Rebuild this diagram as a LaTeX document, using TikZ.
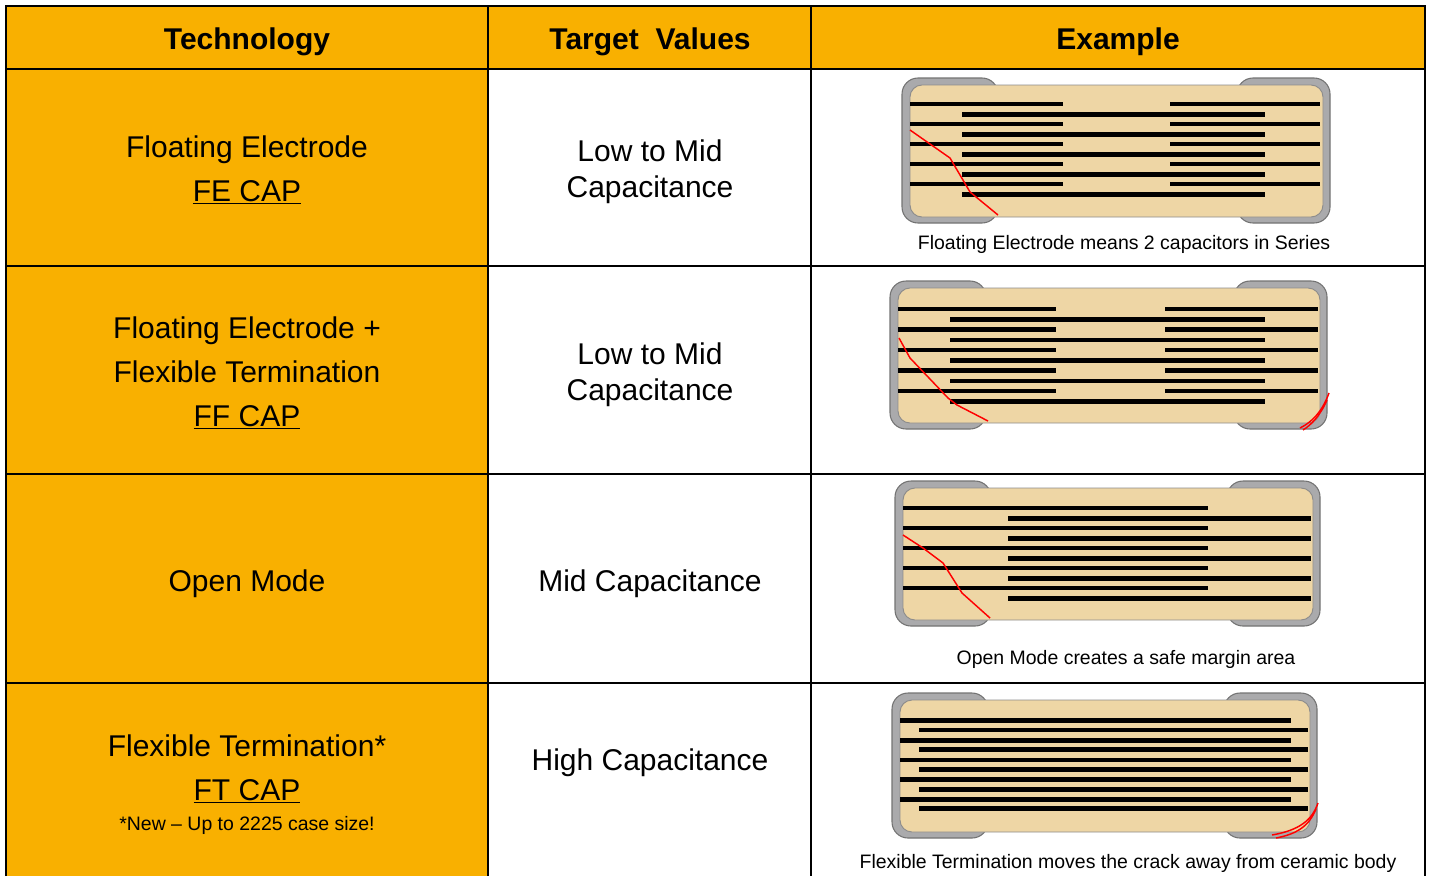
\documentclass[tikz,border=0pt]{standalone}
\usepackage{fontspec}
\setmainfont{Liberation Sans}
\usetikzlibrary{positioning}
\definecolor{amber}{HTML}{F9B000}
\definecolor{ceramic}{HTML}{EED6A5}
\definecolor{termgray}{HTML}{AAAAAC}
\tikzset{
  grid line/.style={line width=1.5pt},
  head/.style={anchor=base, font=\fontsize{22.5}{27}\bfseries},
  cell/.style={anchor=base, font=\fontsize{22.5}{27}\selectfont},
  note/.style={anchor=base, font=\fontsize{14.6}{17}\selectfont},
  termination/.style={fill=termgray, draw=gray!90!black, line width=0.8pt, rounded corners=12pt},
  ceramic body/.style={fill=ceramic, draw=black!45, line width=0.7pt, rounded corners=9pt},
  electrode/.style={line width=3.6pt},
  crack/.style={red, line width=1.1pt, line join=round},
}
\newcommand\undercap[1]{\setbox0\hbox{#1}\rlap{\rule[-2.6pt]{\wd0}{1.3pt}}\box0}
% body extents: left, top, right, bottom
\newcommand\chip[4]{%
  \draw[termination](#1-8,#2-7) rectangle (#1+88,#4+6);
  \draw[termination](#3-86,#2-7) rectangle (#3+7,#4+6);
  \draw[ceramic body](#1,#2) rectangle (#3,#4);
}

\begin{document}
\begin{tikzpicture}[x=0.75pt, y=-0.75pt]
  \useasboundingbox (0,0) rectangle (1430,876);
  % table
  \fill[amber](6,6) rectangle (1425,69);
  \fill[amber](6,69) rectangle (488,876);
  \draw[grid line](6,876)--(6,6)--(1425,6)--(1425,876);
  \draw[grid line](488,6)--(488,876);
  \draw[grid line](811,6)--(811,876);
  \foreach \y in {69,266,474,683}
    \draw[grid line](6,\y)--(1425,\y);

  % headers
  \node[head] (tech) at (247,49) {Technology};
  \node[head] (target) at (650,49) {Target\ \ Values};
  \node[head] (example) at (1118,49) {Example};

  % FE CAP
  \node[cell] (fe) at (247,157) {Floating Electrode};
  \node[cell] (fecap) at (247,201) {\undercap{FE CAP}};
  \node[cell] (lowmidA) at (650,161) {Low to Mid};
  \node[cell] (capA) at (650,197) {Capacitance};
  \chip{910}{85}{1323}{217}
  \foreach \i in {0,...,4}{
    \draw[electrode](910,104+20*\i)--(1063,104+20*\i);
    \draw[electrode](1170,104+20*\i)--(1320,104+20*\i);
    \draw[electrode](962,114.5+20*\i)--(1265,114.5+20*\i);
  }
  \draw[crack](910,130)--(950,158)--(970,192)--(998,215);
  \node[note] (noteFE) at (1124,249) {Floating Electrode means 2 capacitors in Series};

  % FF CAP
  \node[cell] (ff) at (247,338) {Floating Electrode +};
  \node[cell] (ffb) at (247,382) {Flexible Termination};
  \node[cell] (ffcap) at (247,426) {\undercap{FF CAP}};
  \node[cell] (lowmidB) at (650,364) {Low to Mid};
  \node[cell] (capB) at (650,400) {Capacitance};
  \chip{898}{288}{1320}{423}
  \foreach \i in {0,...,4}{
    \draw[electrode](898,309+20.5*\i)--(1056,309+20.5*\i);
    \draw[electrode](1165,309+20.5*\i)--(1318,309+20.5*\i);
    \draw[electrode](950,319.5+20.5*\i)--(1265,319.5+20.5*\i);
  }
  \draw[crack](899,338)--(910,358)--(948,398)--(957,405)--(988,421);
  \draw[crack](1329,393) .. controls (1322,412) and (1312,422) .. (1300,428);
  \draw[crack](1327,400) .. controls (1320,416) and (1311,425) .. (1303,430);

  % open mode
  \node[cell] (om) at (247,591) {Open Mode};
  \node[cell] (midcap) at (650,591) {Mid Capacitance};
  \chip{903}{488}{1313}{620}
  \foreach \i in {0,...,4}{
    \draw[electrode](903,508+20*\i)--(1208,508+20*\i);
    \draw[electrode](1008,518.5+20*\i)--(1311,518.5+20*\i);
  }
  \draw[crack](903,535)--(923,548)--(943,563)--(962,593)--(990,618);
  \node[note] (noteOM) at (1126,664) {Open Mode creates a safe margin area};

  % FT CAP
  \node[cell] (ft) at (247,756) {Flexible Termination*};
  \node[cell] (ftcap) at (247,800) {\undercap{FT CAP}};
  \node[note] (ftnew) at (247,830) {*New – Up to 2225 case size!};
  \node[cell] (highcap) at (650,770) {High Capacitance};
  \chip{900}{700}{1310}{832}
  \foreach \i in {0,...,4}{
    \draw[electrode](900,720.5+19.7*\i)--(1291,720.5+19.7*\i);
    \draw[electrode](919,730+19.7*\i)--(1308,730+19.7*\i);
  }
  \draw[crack](1318,803) .. controls (1312,820) and (1300,830) .. (1272,835);
  \draw[crack](1316,809) .. controls (1309,826) and (1297,834) .. (1276,838);
  \node[note] (noteFT) at (1128,868) {Flexible Termination moves the crack away from ceramic body};
\end{tikzpicture}
\end{document}
